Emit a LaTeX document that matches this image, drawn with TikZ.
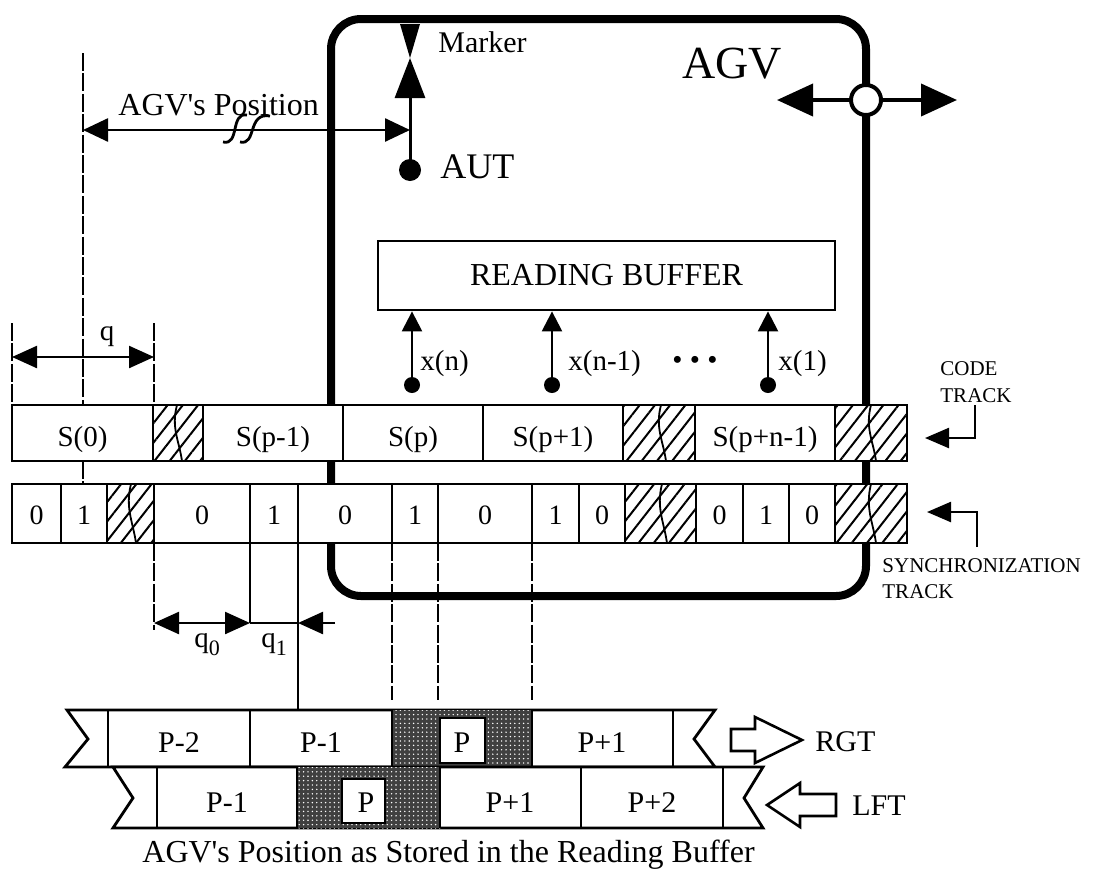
\documentclass[tikz,border=0pt]{standalone}
\usepackage{fontspec}
\setmainfont{Liberation Serif}
\usetikzlibrary{arrows.meta,patterns.meta,positioning}

\begin{document}
\begin{tikzpicture}[x=0.5pt, y=-0.5pt,
  agvbody/.style={line width=4pt, rounded corners=15pt},
  cell/.style={draw, line width=1.4pt, fill=white},
  hatch/.style={pattern={Lines[angle=52,distance=6pt,line width=1pt]}},
  darkfill/.style={fill=black!75},
  speckle/.style={pattern={Dots[distance=2.2pt,radius=0.4pt]}, pattern color=white},
  guide/.style={line width=0.8pt, dash pattern=on 9pt off 1.2pt},
  fine/.style={line width=0.8pt},
  lbl/.style={font=\fontsize{14.5}{16}\selectfont, inner sep=0pt, anchor=base},
  bit/.style={font=\fontsize{14}{16}\selectfont, inner sep=0pt, anchor=base},
  note/.style={font=\fontsize{10.5}{11}\selectfont, inner sep=0pt, anchor=base west},
  txt/.style={font=\fontsize{16}{18}\selectfont, inner sep=0pt, anchor=base west},
  dot/.style={circle, fill, inner sep=0pt, minimum size=#1},
  dot/.default=8pt,
  ar/.style={line width=1.2pt, -{Triangle[length=12pt,width=10pt]}},
  dimar/.style={line width=1.2pt, {Triangle[length=12.5pt,width=11pt]}-{Triangle[length=12.5pt,width=11pt]}},
  hollow/.style={draw, line width=1.3pt, line join=miter}
]
\useasboundingbox (0,0) rectangle (1096,873);

% AGV body
\draw[agvbody] (331,19) rectangle (866,596);

% marker and reference point
\fill (400,24) -- (420,24) -- (410,58) -- cycle;
\coordinate (mtip) at (410,58);
\node[dot=11pt] (aut) at (410,170) {};
\draw[line width=1.5pt, -{Triangle[length=20pt,width=15pt]}] (aut.center) -- (mtip);
\node[font=\fontsize{15}{16}\selectfont, inner sep=0pt, anchor=base west] (mk) at (438,52) {Marker};
\node[font=\fontsize{18}{20}\selectfont, inner sep=0pt, anchor=base west] (autl) at (440,178) {AUT};
\node[font=\fontsize{23}{26}\selectfont, inner sep=0pt, anchor=base west] (agvl) at (682,78) {AGV};

% wheel
\node[circle, draw, line width=2pt, fill=white, minimum size=15pt, inner sep=0pt] (wheel) at (866,100) {};
\coordinate (wl) at (777,100);
\coordinate (wr) at (957,100);
\draw[line width=2pt, -{Triangle[length=18pt,width=16pt]}] (wheel.west) -- (wl);
\draw[line width=2pt, -{Triangle[length=18pt,width=16pt]}] (wheel.east) -- (wr);

% position of the AGV
\draw[guide] (83,53) -- (83,405);
\coordinate (posl) at (83,130);
\coordinate (posr) at (410,130);
\draw[line width=1.3pt, {Triangle[length=12.5pt,width=11.5pt]}-{Triangle[length=12.5pt,width=11.5pt]}] (posl) -- (posr);
\draw[line width=1.4pt] (223,142) .. controls (240,146) and (230,112) .. (247,115);
\draw[line width=1.4pt] (240,142) .. controls (257,146) and (247,112) .. (270,116);
\node[txt] (posn) at (118,115) {AGV\textquotesingle s Position};

% reading buffer
\node[draw, line width=1.4pt, minimum width=228.5pt, minimum height=34.5pt, inner sep=0pt,
      font=\fontsize{16}{18}\selectfont] (buf) at (606.5,275.5) {READING BUFFER};
\foreach \x/\n/\lx/\lab in {412/a/420/x(n), 552/b/568/x(n-1), 768/c/778/x(1)} {
  \node[dot] (d\n) at (\x,385) {};
  \draw[ar, -{Triangle[length=10pt,width=10pt]}] (d\n.center) -- (d\n.center |- buf.south);
  \node[lbl, anchor=base west] (l\n) at (\lx,370) {\lab};
}
\node[lbl] (dots) at (695,369) {\textbullet\hspace{3.7pt}\textbullet\hspace{3.7pt}\textbullet};

% code track
\foreach \a/\b/\t in {12/153/S(0), 203/343/S(p-1), 343/483/S(p), 483/623/S(p+1), 695/835/S(p+n-1)} {
  \draw[cell] (\a,405) rectangle (\b,461);
  \node[lbl] at ({(\a+\b)/2},446) {\t};
}
\foreach \a/\b/\m in {153/203/177, 623/695/661, 835/907/871} {
  \fill[white] (\a,405) rectangle (\b,461);
  \path[hatch] (\a,405) rectangle (\b,461);
  \draw[line width=1.4pt] (\a,405) rectangle (\b,461);
  \draw[line width=0.9pt] (\m,405) .. controls (\m-6,428) and (\m+2,440) .. (\m+5,461);
}

% synchronization track
\foreach \a/\b/\t in {12/61/0, 61/107/1, 154/250/0, 250/298/1, 298/392/0, 392/438/1,
                      438/532/0, 532/579/1, 579/625/0, 696/743/0, 743/789/1, 789/835/0} {
  \draw[cell] (\a,484) rectangle (\b,543);
  \node[bit] at ({(\a+\b)/2},524) {\t};
}
\foreach \a/\b/\m in {107/154/131, 625/696/662, 835/907/871} {
  \fill[white] (\a,484) rectangle (\b,543);
  \path[hatch] (\a,484) rectangle (\b,543);
  \draw[line width=1.4pt] (\a,484) rectangle (\b,543);
  \draw[line width=0.9pt] (\m,484) .. controls (\m-6,508) and (\m+2,522) .. (\m+5,543);
}

% track names
\node[note] (code) at (940,375) {CODE};
\node[note] (codet) at (940,402) {TRACK};
\coordinate (ca) at (975,405);
\coordinate (cb) at (925,438);
\draw[ar] (ca) |- (cb);
\node[note] (sync) at (882,572) {SYNCHRONIZATION};
\node[note] (synct) at (882,598) {TRACK};
\coordinate (sa) at (977,547);
\coordinate (sb) at (927,512);
\draw[ar] (sa) |- (sb);

% bit spacing q
\draw[guide] (12,323) -- (12,405);
\draw[guide] (154,323) -- (154,405);
\coordinate (ql) at (12,357);
\coordinate (qr) at (154,357);
\draw[dimar] (ql) -- (qr);
\node[lbl] (q) at (107,340) {q};
\draw[guide] (83,461) -- (83,484);

% q0 and q1
\draw[guide] (154,543) -- (154,630);
\draw[fine] (250,543) -- (250,623);
\draw[fine] (298,543) -- (298,710);
\foreach \x in {392,438,532}
  \draw[guide] (\x,543) -- (\x,700);
\coordinate (q0l) at (154,623);
\coordinate (q0r) at (250,623);
\coordinate (q1r) at (298,623);
\coordinate (q1e) at (335,623);
\draw[dimar] (q0l) -- (q0r);
\draw[line width=1.2pt] (q0r) -- (q1r);
\draw[line width=1.2pt, -{Triangle[length=12.5pt,width=11pt]}] (q1e) -- (q1r);
\node[lbl] (q0) at (207,647) {q\raisebox{-4pt}{\fontsize{11}{12}\selectfont 0}};
\node[lbl] (q1) at (274,647) {q\raisebox{-4pt}{\fontsize{11}{12}\selectfont 1}};

% buffer contents, moving right
\draw[cell] (67,710) -- (715,710) -- (694,739) -- (715,767) -- (65,767) -- (88,739) -- cycle;
\fill[darkfill] (392,710) rectangle (532,767);
\path[speckle] (392,710) rectangle (532,767);
\draw[cell] (440,718) rectangle (485,763);
\foreach \x in {108,250,392,532,673}
  \draw[line width=1.4pt] (\x,710) -- (\x,767);
\foreach \x/\t in {179/P-2, 321/P-1, 462/P, 602/P+1}
  \node[lbl, font=\fontsize{15}{16}\selectfont] at (\x,752) {\t};

% buffer contents, moving left
\draw[cell] (113,767) -- (763,767) -- (744,798) -- (763,828) -- (113,828) -- (133,798) -- cycle;
\fill[darkfill] (297,767) rectangle (440,828);
\path[speckle] (297,767) rectangle (440,828);
\draw[cell] (342,779) rectangle (385,823);
\foreach \x in {157,297,440,581,723}
  \draw[line width=1.4pt] (\x,767) -- (\x,828);
\foreach \x/\t in {227/P-1, 366/P, 510/P+1, 652/P+2}
  \node[lbl, font=\fontsize{15}{16}\selectfont] at (\x,812) {\t};

% direction arrows
\draw[hollow] (731,729) -- (755,729) -- (755,717) -- (802,740) -- (755,763) -- (755,751) -- (731,751) -- cycle;
\node[txt, font=\fontsize{15}{16}\selectfont] (rgt) at (815,751) {RGT};
\draw[hollow] (836,794) -- (800,794) -- (800,783) -- (767,805) -- (800,827) -- (800,816) -- (836,816) -- cycle;
\node[txt, font=\fontsize{15}{16}\selectfont] (lft) at (852,815) {LFT};

\node[txt] (cap) at (142,862) {AGV\textquotesingle s Position as Stored in the Reading Buffer};
\end{tikzpicture}
\end{document}
